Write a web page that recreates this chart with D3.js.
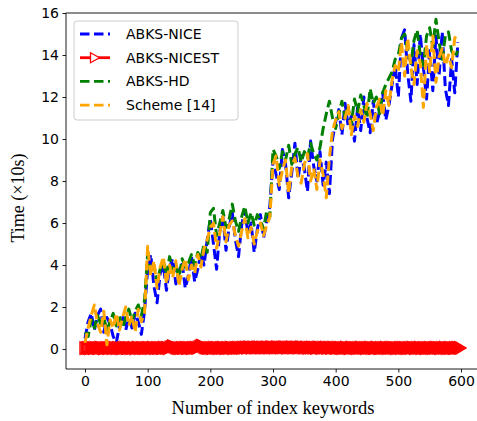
<!DOCTYPE html>
<html>
<head>
<meta charset="utf-8">
<script src="https://cdn.jsdelivr.net/npm/d3@7"></script>
<style>
  body { margin: 0; background: #fff; }
</style>
</head>
<body>
<div id="chart"></div>
<script>
// keyword counts (step 5 for the noisy series, step 2 for the flat one)
var xNoisy = d3.range(0, 600, 5);
var xFlat = d3.range(0, 601, 2);

var nice = [
  0.5,1.3,1.7,0.9,1.6,1.9,0.8,1.5,1.2,0.6,0.3,1.1,1.6,0.9,1.5,1.0,1.7,1.3,0.7,1.8,
  3.8,4.5,3.0,2.2,3.6,4.0,2.8,3.9,4.3,3.1,3.7,4.1,2.9,3.5,4.4,3.2,3.8,4.6,4.0,5.2,
  6.2,5.0,3.8,5.6,6.3,4.7,5.8,6.5,5.2,4.4,5.9,6.6,5.5,6.0,4.6,5.7,6.4,5.3,6.1,6.8,
  9.0,8.3,7.6,9.5,8.8,7.2,8.4,9.8,8.1,9.2,8.6,7.5,9.9,8.7,8.0,9.4,7.8,8.9,7.4,10.0,
  10.8,11.4,10.2,11.7,10.6,11.1,9.9,11.5,10.4,12.0,11.0,10.3,11.8,10.7,11.3,12.2,10.9,11.6,12.6,13.5,
  12.0,14.8,15.2,13.1,11.8,14.5,12.6,15.0,13.4,11.9,14.2,12.3,14.9,13.0,15.1,12.4,11.6,13.8,12.2,14.6
];
var hd = [
  0.8,0.6,1.4,1.0,1.6,1.2,1.5,0.9,1.3,1.7,1.1,1.6,1.0,1.5,1.9,1.3,1.8,2.1,1.6,2.3,
  4.5,3.6,4.0,3.2,3.8,4.2,3.5,4.4,3.7,4.0,3.4,4.3,3.9,4.1,4.5,4.0,4.6,4.3,5.0,4.6,
  6.5,6.7,5.4,6.0,6.6,5.8,6.2,6.9,6.1,5.6,6.3,6.8,6.0,6.5,5.9,6.4,6.1,5.7,6.6,6.3,
  9.5,9.2,8.6,9.4,9.0,9.7,8.8,9.3,9.6,8.9,9.4,9.1,9.8,9.3,9.0,9.6,10.5,11.2,11.8,11.0,
  10.5,11.2,11.8,11.0,11.5,10.7,11.9,11.3,12.1,11.6,11.0,12.4,11.7,12.0,11.2,12.2,12.6,12.9,13.2,13.8,
  14.0,14.8,15.0,14.2,13.6,14.7,15.2,14.0,13.5,14.9,15.3,14.4,15.7,14.6,13.8,14.9,15.1,14.2,13.9,14.2
];
var scheme14 = [
  0.3,1.0,1.6,2.1,1.2,0.8,1.8,0.2,1.4,1.0,1.7,0.9,1.5,2.0,1.1,1.6,0.8,1.9,1.3,1.7,
  4.9,3.5,4.2,2.9,3.9,4.4,3.1,4.0,3.4,4.2,3.0,3.8,4.3,3.3,4.0,3.6,4.5,3.9,4.8,5.2,
  5.8,6.0,4.8,5.5,6.3,5.1,5.9,6.1,5.4,4.9,5.6,6.2,5.3,5.8,5.0,5.6,6.0,5.4,5.9,6.3,
  8.8,9.2,7.8,8.5,9.0,7.4,8.7,9.1,8.2,7.9,8.8,9.3,8.0,8.6,7.6,9.0,8.3,7.2,9.1,10.4,
  10.9,11.3,10.5,11.0,11.6,10.2,11.1,10.6,11.4,10.8,11.7,11.2,10.4,11.5,11.9,11.1,12.3,11.6,12.8,13.5,
  13.2,14.6,13.0,14.8,13.4,12.6,14.2,13.6,11.5,14.5,13.2,14.9,12.7,13.9,14.3,13.5,14.0,13.4,14.8,15.0
];
var nicest = [
  0.05,0.04,0.06,0.05,0.03,0.07,0.05,0.04,0.06,0.05,0.05,0.04,0.07,0.06,0.05,0.03,0.05,0.06,0.04,0.05,0.06,0.05,0.04,0.07,0.05,
  0.04,0.06,0.05,0.05,0.03,0.06,0.05,0.07,0.04,0.05,0.06,0.04,0.05,0.05,0.06,0.03,0.05,0.07,0.05,0.04,0.06,0.05,0.05,0.04,0.06,
  0.05,0.06,0.04,0.05,0.07,0.05,0.04,0.06,0.05,0.05,0.06,0.04,0.05,0.07,0.05,0.06,0.05,0.04,0.08,0.10,0.14,0.12,0.08,0.06,0.05,
  0.05,0.04,0.06,0.05,0.05,0.07,0.04,0.05,0.06,0.05,0.04,0.06,0.05,0.07,0.05,0.06,0.09,0.13,0.17,0.15,0.10,0.07,0.06,0.05,0.05,
  0.06,0.04,0.05,0.07,0.05,0.06,0.05,0.04,0.06,0.05,0.07,0.05,0.04,0.06,0.05,0.05,0.07,0.06,0.04,0.05,0.06,0.05,0.07,0.05,0.06,
  0.05,0.07,0.06,0.08,0.06,0.07,0.09,0.07,0.06,0.08,0.07,0.06,0.08,0.07,0.09,0.06,0.07,0.08,0.06,0.07,0.08,0.07,0.06,0.09,0.07,
  0.08,0.06,0.07,0.09,0.07,0.08,0.06,0.08,0.07,0.09,0.08,0.06,0.07,0.08,0.07,0.09,0.06,0.08,0.07,0.08,0.06,0.07,0.09,0.08,0.07,
  0.06,0.08,0.07,0.05,0.07,0.06,0.08,0.06,0.07,0.05,0.06,0.08,0.07,0.06,0.05,0.07,0.06,0.08,0.05,0.06,0.07,0.05,0.06,0.07,0.06,
  0.05,0.06,0.07,0.05,0.06,0.04,0.06,0.05,0.07,0.06,0.05,0.04,0.06,0.07,0.05,0.06,0.05,0.04,0.06,0.05,0.07,0.06,0.05,0.06,0.04,
  0.06,0.05,0.07,0.05,0.06,0.04,0.05,0.06,0.07,0.05,0.04,0.06,0.05,0.06,0.05,0.07,0.04,0.05,0.06,0.05,0.07,0.05,0.06,0.04,0.05,
  0.05,0.06,0.04,0.07,0.05,0.06,0.05,0.04,0.06,0.05,0.05,0.07,0.06,0.04,0.05,0.06,0.05,0.07,0.04,0.05,0.06,0.05,0.04,0.06,0.05,
  0.06,0.05,0.04,0.06,0.05,0.07,0.05,0.06,0.04,0.05,0.06,0.05,0.07,0.05,0.04,0.06,0.05,0.06,0.05,0.04,0.06,0.05,0.07,0.05,0.06,
  0.05
];

var xTicks = [0, 100, 200, 300, 400, 500, 600];
var yTicks = [0, 2, 4, 6, 8, 10, 12, 14, 16];
var seriesNames = ['ABKS-NICE', 'ABKS-NICEST', 'ABKS-HD', 'Scheme [14]'];
var seriesColors = ['#0000ff', '#ff0000', '#008000', '#ffa500'];

const layout = { width: 477, height: 421, left: 66, right: 480, top: 13, bottom: 369 };

var svg = d3.select('#chart').append('svg')
  .attr('width', layout.width)
  .attr('height', layout.height)
  .style('font-family', '"DejaVu Sans", sans-serif');

var xScale = d3.scaleLinear().domain([-30.3, 630.3]).range([layout.left, layout.right]);
var yScale = d3.scaleLinear().domain([-0.95, 16]).range([layout.bottom, layout.top]);

svg.append('clipPath').attr('id', 'plot')
  .append('rect')
  .attr('x', layout.left).attr('y', layout.top)
  .attr('width', layout.right - layout.left).attr('height', layout.bottom - layout.top);

var plot = svg.append('g').attr('clip-path', 'url(#plot)');

var line = d3.line()
  .x(function(d) { return xScale(d[0]); })
  .y(function(d) { return yScale(d[1]); });

var tri = 'M-5,-6L5,0L-5,6Z';

function dashed(values, color) {
  var pts = xNoisy.map(function(x, i) { return [x, values[i]]; });
  plot.append('path').datum(pts)
    .attr('d', line)
    .attr('fill', 'none')
    .attr('stroke', color)
    .attr('stroke-width', 3)
    .attr('stroke-dasharray', '10,4.5')
    .attr('stroke-linejoin', 'round');
}

dashed(nice, seriesColors[0]);

// NICEST: solid line with right triangles (dense, so outlines pile up)
var redPts = xFlat.map(function(x, i) { return [x, nicest[i]]; });
plot.append('path').datum(redPts)
  .attr('d', line)
  .attr('fill', 'none')
  .attr('stroke', seriesColors[1])
  .attr('stroke-width', 2.5);
plot.selectAll('.mk').data(redPts).enter().append('path')
  .attr('class', 'mk')
  .attr('d', tri)
  .attr('transform', function(d) { return `translate(${xScale(d[0])},${yScale(d[1])})`; })
  .attr('fill', 'none')
  .attr('stroke', seriesColors[1])
  .attr('stroke-width', 1.4);

dashed(hd, seriesColors[2]);
dashed(scheme14, seriesColors[3]);

// axes
var xAxis = d3.axisBottom(xScale).tickValues(xTicks).tickSize(3.5).tickPadding(3.5);
var yAxis = d3.axisLeft(yScale).tickValues(yTicks).tickSize(3.5).tickPadding(3.5);

var gx = svg.append('g').attr('transform', `translate(0,${layout.bottom})`).call(xAxis);
var gy = svg.append('g').attr('transform', `translate(${layout.left},0)`).call(yAxis);
[gx, gy].forEach(function(g) {
  g.select('.domain').remove();
  g.selectAll('.tick line').attr('stroke', '#000').attr('stroke-width', 0.9);
  g.selectAll('.tick text').attr('font-size', 14).attr('fill', '#000')
    .style('font-family', '"DejaVu Sans", sans-serif');
});

// spines
svg.append('line').attr('x1', layout.left).attr('x2', layout.left)
  .attr('y1', layout.top).attr('y2', layout.bottom).attr('stroke', '#000').attr('stroke-width', 0.9);
svg.append('line').attr('x1', layout.left).attr('x2', layout.right)
  .attr('y1', layout.bottom).attr('y2', layout.bottom).attr('stroke', '#000').attr('stroke-width', 0.9);
svg.append('line').attr('x1', layout.left).attr('x2', layout.right)
  .attr('y1', layout.top).attr('y2', layout.top).attr('stroke', '#000').attr('stroke-width', 0.9);

// axis labels
svg.append('text')
  .attr('x', (xScale(0) + xScale(600)) / 2).attr('y', 414)
  .attr('text-anchor', 'middle')
  .style('font-family', '"Liberation Serif", serif')
  .attr('font-size', 18.5)
  .text('Number of index keywords');

svg.append('text')
  .attr('transform', 'translate(24,198) rotate(-90)')
  .attr('text-anchor', 'middle')
  .style('font-family', '"Liberation Serif", serif')
  .attr('font-size', 18)
  .text('Time (×10s)');

// legend
var lg = svg.append('g');
lg.append('rect')
  .attr('x', 74).attr('y', 21).attr('width', 164).attr('height', 99)
  .attr('rx', 3)
  .attr('fill', '#fff').attr('fill-opacity', 0.8)
  .attr('stroke', '#cccccc').attr('stroke-width', 1);

seriesNames.forEach(function(name, i) {
  var y = 34 + i * 23.7;
  var c = seriesColors[i];
  var seg = lg.append('line')
    .attr('x1', 80).attr('x2', 110).attr('y1', y).attr('y2', y)
    .attr('stroke', c).attr('stroke-width', 2.8);
  if (i === 1) {
    lg.append('path').attr('d', 'M-4.5,-5L4.5,0L-4.5,5Z')
      .attr('transform', `translate(95,${y})`)
      .attr('fill', '#fff').attr('stroke', c).attr('stroke-width', 1.3);
  } else {
    seg.attr('stroke-dasharray', '9.5,4.5');
  }
  lg.append('text')
    .attr('x', 126).attr('y', y).attr('dy', '0.36em')
    .attr('font-size', 14)
    .text(name);
});
</script>
</body>
</html>
